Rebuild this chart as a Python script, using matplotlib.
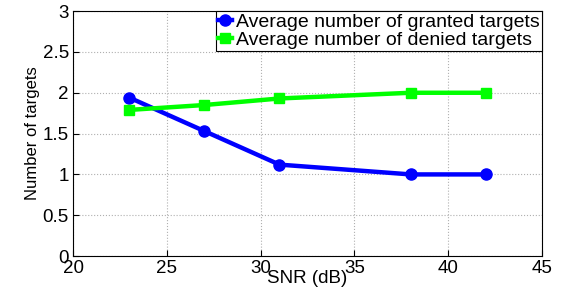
import matplotlib
matplotlib.use('Agg')
import matplotlib.pyplot as plt

plt.rcParams['font.family'] = ['Liberation Sans', 'DejaVu Sans']

snr = [23, 27, 31, 38, 42]
granted = [1.94, 1.53, 1.12, 1.0, 1.0]
denied = [1.79, 1.85, 1.93, 2.0, 2.0]

fig = plt.figure(figsize=(5.67, 2.92), dpi=100)
ax = fig.add_axes([0.129, 0.123, 0.827, 0.839])

ax.plot(snr, granted, '-o', color='#0000ff', lw=3.2, ms=8,
        label='Average number of granted targets')
ax.plot(snr, denied, '-s', color='#00ff00', lw=3.2, ms=7.5,
        label='Average number of denied targets')

ax.set_xlim(20, 45)
ax.set_ylim(0, 3)
ax.set_xticks([20, 25, 30, 35, 40, 45])
ax.set_yticks([0, 0.5, 1, 1.5, 2, 2.5, 3])
ax.set_yticklabels(['0', '0.5', '1', '1.5', '2', '2.5', '3'])
ax.grid(True, color='#b0b0b0', linestyle=':', linewidth=0.8)
ax.tick_params(direction='in', labelsize=13.5, length=4)
ax.tick_params(axis='x', pad=3)
ax.tick_params(axis='y', pad=3)
for s in ax.spines.values():
    s.set_linewidth(0.8)

ax.set_xlabel('SNR (dB)', fontsize=13.5, labelpad=-5)
ax.set_ylabel('Number of targets', fontsize=12, labelpad=2)

leg = ax.legend(loc='upper right', fontsize=14, borderaxespad=0,
                handlelength=0.7, handletextpad=0.2, borderpad=0.12,
                labelspacing=0.0, fancybox=False, framealpha=1,
                edgecolor='black')
leg.get_frame().set_linewidth(0.8)

fig.savefig('out.png', dpi=100)
